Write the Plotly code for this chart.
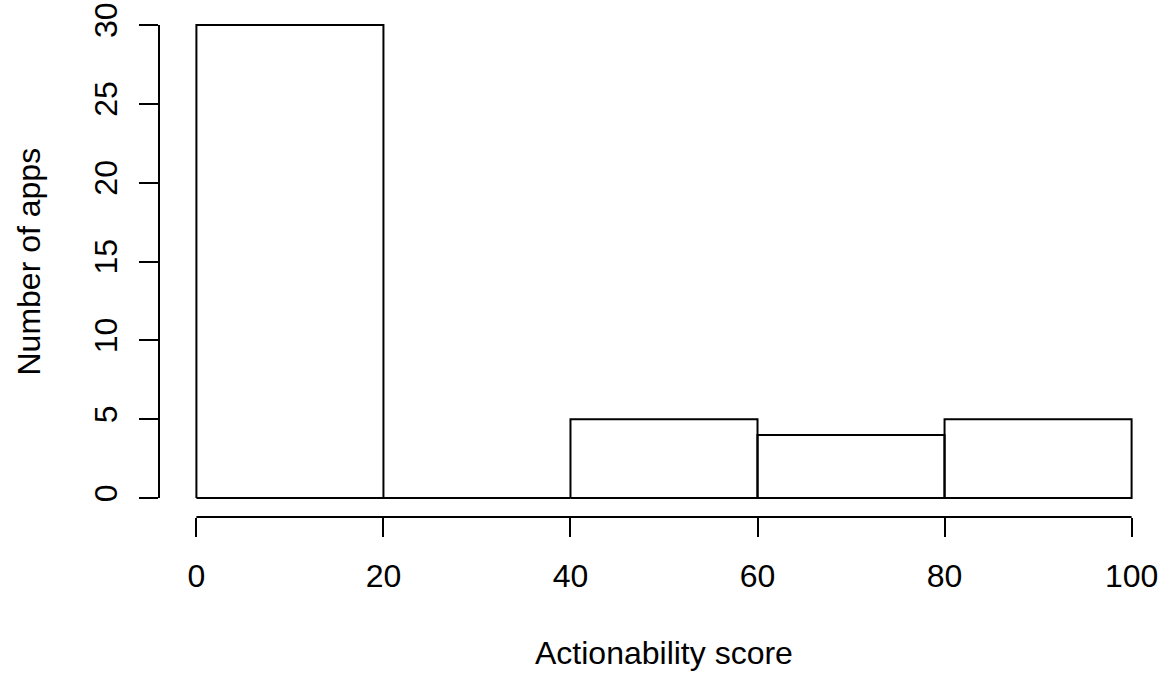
import plotly.graph_objects as go

# Histogram data
bin_edges = [0, 20, 40, 60, 80, 100]
counts = [30, 0, 5, 4, 5]
x_ticks = [0, 20, 40, 60, 80, 100]
y_ticks = [0, 5, 10, 15, 20, 25, 30]
x_title = "Actionability score"
y_title = "Number of apps"

FONT = "Liberation Sans, Arial, sans-serif"
FS = 32

# build outline path for each bin (R hist style)
xs, ys = [], []
for i, c in enumerate(counts):
    l, r = bin_edges[i], bin_edges[i + 1]
    xs += [l, l, r, r, l, None]
    ys += [0, c, c, 0, 0, None]

fig = go.Figure()
fig.add_trace(go.Scatter(x=xs, y=ys, mode="lines",
                         line=dict(color="black", width=2),
                         hoverinfo="skip", showlegend=False, cliponaxis=False))

W, H = 1166, 677
ml, mr, mt, mb = 159, 0, 6, 160
fig.update_layout(
    width=W, height=H,
    margin=dict(l=ml, r=mr, t=mt, b=mb, pad=0),
    paper_bgcolor="white", plot_bgcolor="white",
    font=dict(family=FONT, size=FS, color="black"),
    showlegend=False,
)
fig.update_xaxes(
    range=[-4, 103.68], showgrid=False, zeroline=False, showline=False,
    tickmode="array", tickvals=x_ticks, ticktext=[str(v) for v in x_ticks],
    ticks="outside", ticklen=19, tickwidth=2, tickcolor="black",
    ticklabelstandoff=12,
    tickfont=dict(family=FONT, size=FS, color="black"),
)
fig.update_yaxes(
    range=[-1.2, 31.2], showgrid=False, zeroline=False, showline=False,
    tickmode="array", tickvals=y_ticks, ticktext=[str(v) for v in y_ticks],
    ticks="outside", ticklen=19, tickwidth=2, tickcolor="black",
    tickangle=-90, ticklabelstandoff=9,
    tickfont=dict(family=FONT, size=FS, color="black"),
)

# R-style axis lines spanning first to last tick
fig.add_shape(type="line", xref="x", yref="paper",
              x0=min(x_ticks), x1=max(x_ticks), y0=0, y1=0,
              line=dict(color="black", width=2))
fig.add_shape(type="line", xref="paper", yref="y",
              x0=0, x1=0, y0=min(y_ticks), y1=max(y_ticks),
              line=dict(color="black", width=2))

# axis titles
fig.add_annotation(text=x_title, xref="x", yref="paper",
                   x=(min(x_ticks) + max(x_ticks)) / 2, y=0,
                   yanchor="middle", yshift=-136, showarrow=False,
                   font=dict(family=FONT, size=FS, color="black"))
fig.add_annotation(text=y_title, xref="paper", yref="y",
                   x=0, y=(min(y_ticks) + max(y_ticks)) / 2,
                   xanchor="center", xshift=-131, textangle=-90, showarrow=False,
                   font=dict(family=FONT, size=FS, color="black"))

fig.write_html("out.html")
